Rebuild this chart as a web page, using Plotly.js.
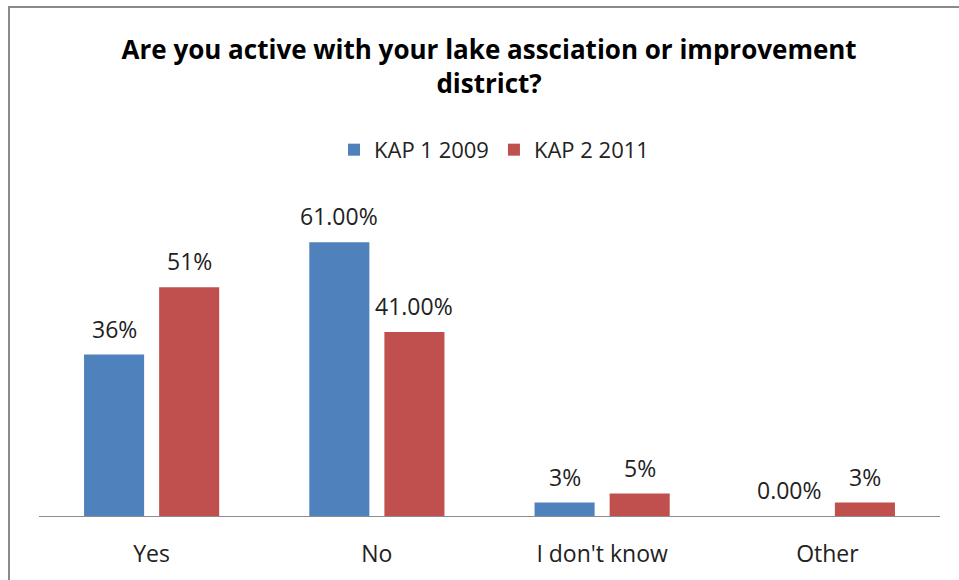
<!DOCTYPE html>
<html>
<head>
<meta charset="utf-8">
<script src="https://cdn.plot.ly/plotly-3.0.1.min.js"></script>
<style>
  html, body { margin: 0; padding: 0; background: #fff; }
  #wrap { position: relative; width: 959px; height: 580px; overflow: hidden; }
  #chart { position: absolute; left: 0; top: 0; width: 959px; height: 580px; }
  #frame { position: absolute; left: 8px; top: 6px; width: 1200px; height: 1200px;
           border-left: 2px solid #8a8a8a; border-top: 2px solid #8a8a8a; pointer-events: none; }
</style>
</head>
<body>
<div id="wrap">
  <div id="chart"></div>
  <div id="frame"></div>
</div>
<script>
const categories = ["Yes", "No", "I don't know", "Other"];
const seriesNames = ["KAP 1 2009", "KAP 2 2011"];
const kap1Values = [36, 61, 3, 0];
const kap2Values = [51, 41, 5, 3];
const kap1Labels = ["36%", "61.00%", "3%", "0.00%"];
const kap2Labels = ["51%", "41.00%", "5%", "3%"];
const colors = ["#4F81BD", "#C0504D"];

const FONT = "'Open Sans', Lato, sans-serif";

const traces = [
  { type: "bar", name: seriesNames[0], x: categories, y: kap1Values,
    marker: { color: colors[0] }, hoverinfo: "skip" },
  { type: "bar", name: seriesNames[1], x: categories, y: kap2Values,
    marker: { color: colors[1] }, hoverinfo: "skip" }
];

const annotations = [];
[[kap1Values, kap1Labels, -37.5], [kap2Values, kap2Labels, 37.5]].forEach(([vals, labs, shift]) => {
  vals.forEach((v, i) => {
    annotations.push({
      x: categories[i], y: v, xref: "x", yref: "y",
      text: labs[i], showarrow: false,
      xshift: shift, yshift: 26, yanchor: "middle", xanchor: "center",
      font: { family: FONT, size: 23, color: "#222" }
    });
  });
});

const layout = {
  width: 959, height: 580,
  margin: { l: 39, r: 19, t: 202, b: 64 },
  paper_bgcolor: "#fff", plot_bgcolor: "#fff",
  title: {
    text: "Are you active with your lake assciation or improvement<br>district?",
    font: { family: FONT, size: 26, color: "#000", weight: "bold" },
    x: 0.51, xanchor: "center", y: 0.898, yanchor: "top", yref: "container"
  },
  barmode: "group",
  bargap: 0.3333,
  bargroupgap: 0.2,
  showlegend: true,
  legend: {
    orientation: "h", x: 0.505, xanchor: "center", y: 1.166, yanchor: "middle",
    font: { family: FONT, size: 22, color: "#222" },
    itemwidth: 30, tracegroupgap: 0
  },
  xaxis: {
    type: "category",
    showline: true, linecolor: "#8c8c8c", linewidth: 1,
    ticks: "", showgrid: false, zeroline: false,
    tickfont: { family: FONT, size: 23, color: "#222" },
    ticklabelstandoff: 17
  },
  yaxis: {
    range: [0, 70], visible: false, showgrid: false, zeroline: false, fixedrange: true
  },
  annotations: annotations
};

Plotly.newPlot("chart", traces, layout, { displayModeBar: false, staticPlot: true });
</script>
</body>
</html>
